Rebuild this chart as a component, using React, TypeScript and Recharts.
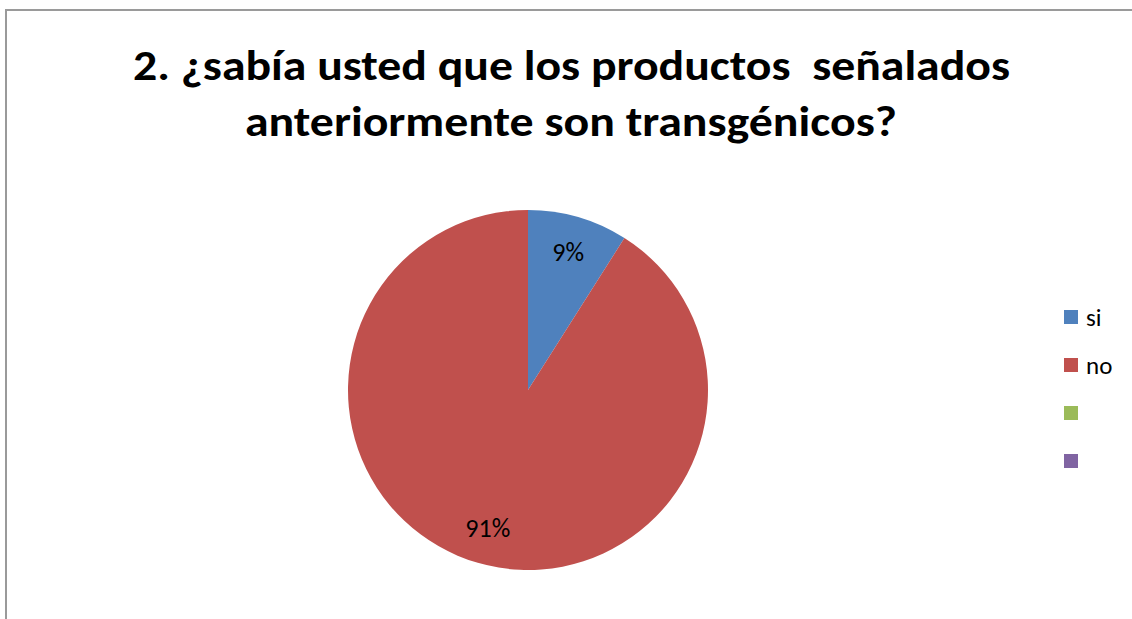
import React from 'react';
import { PieChart, Pie, Cell, Legend } from 'recharts';

const categories = ['si', 'no', '', ''];
const values = [9, 91, 0, 0];
const colors = ['#4F81BD', '#C0504D', '#9BBB59', '#8064A2'];
const titleLines = ['2. ¿sabía usted que los productos  señalados', 'anteriormente son transgénicos?'];

const data = categories.map((name, i) => ({ name, value: values[i] }));

const FONT = "Carlito, Calibri, 'Open Sans', sans-serif";
const RAD = Math.PI / 180;

const renderLabel = (props: any) => {
  const { cx, cy, midAngle, outerRadius, value } = props;
  if (!value) return null;
  const r = outerRadius * 0.8;
  const x = cx + r * Math.cos(-midAngle * RAD);
  const y = cy + r * Math.sin(-midAngle * RAD);
  return (
    <text x={x} y={y} textAnchor="middle" dominantBaseline="central" fontSize={26} fill="#000" fontFamily={FONT}>
      {`${value}%`}
    </text>
  );
};

const renderLegend = () => (
  <div style={{ fontFamily: FONT, fontSize: 25, color: '#000' }}>
    {categories.map((name, i) => (
      <div key={i} style={{ display: 'flex', alignItems: 'center', height: 48 }}>
        <div style={{ width: 14, height: 14, background: colors[i], marginRight: 8 }} />
        <span>{name}</span>
      </div>
    ))}
  </div>
);

export default function App() {
  return (
    <div style={{ position: 'absolute', left: 0, top: 0, width: 1132, height: 619, overflow: 'hidden', background: '#fff' }}>
      <div style={{ position: 'absolute', left: 5, top: 9, width: 1160, height: 640, border: '2px solid #9a9a9a', boxSizing: 'border-box' }} />
      <div style={{ position: 'absolute', left: 0, top: 0 }}>
        <PieChart width={1132} height={619} margin={{ top: 0, right: 0, bottom: 0, left: 0 }}>
          <Pie
            data={data}
            dataKey="value"
            nameKey="name"
            cx={528}
            cy={390}
            outerRadius={180}
            startAngle={90}
            endAngle={-270}
            stroke="none"
            label={renderLabel}
            labelLine={false}
            isAnimationActive={false}
          >
            {data.map((d, i) => (
              <Cell key={i} fill={colors[i]} />
            ))}
          </Pie>
          <Legend content={renderLegend} wrapperStyle={{ position: 'absolute', left: 1064, top: 293, width: 70 }} />
        </PieChart>
      </div>
      <svg width={1132} height={160} style={{ position: 'absolute', left: 0, top: 0 }}>
        <text x={571.5} y={80} textAnchor="middle" fontSize={42} fontWeight="bold" fontFamily={FONT} textLength={877} lengthAdjust="spacingAndGlyphs" style={{ whiteSpace: 'pre' }}>
          {titleLines[0]}
        </text>
        <text x={571} y={136} textAnchor="middle" fontSize={42} fontWeight="bold" fontFamily={FONT} textLength={652} lengthAdjust="spacingAndGlyphs">
          {titleLines[1]}
        </text>
      </svg>
    </div>
  );
}
